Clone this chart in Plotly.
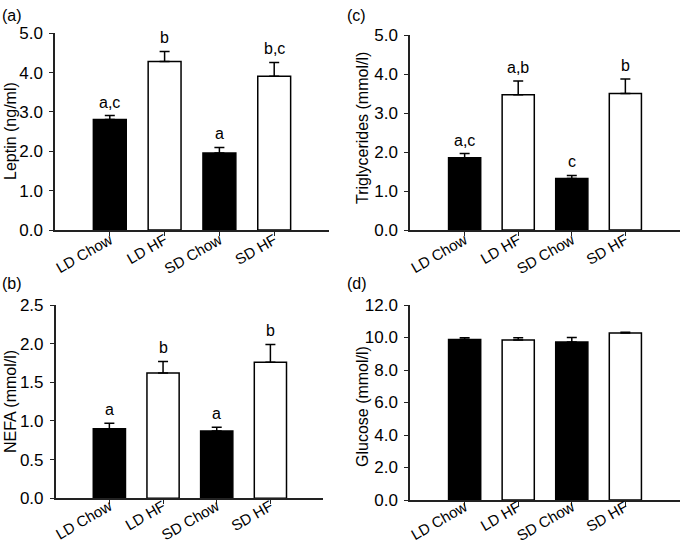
import plotly.graph_objects as go

W, H = 680, 545
categories = ["LD Chow", "LD HF", "SD Chow", "SD HF"]
bar_colors = ["black", "white", "black", "white"]

leptin = [2.81, 4.28, 1.96, 3.91]
leptin_err = [0.10, 0.26, 0.14, 0.35]
leptin_sig = ["a,c", "b", "a", "b,c"]

nefa = [0.90, 1.62, 0.87, 1.76]
nefa_err = [0.07, 0.15, 0.05, 0.23]
nefa_sig = ["a", "b", "a", "b"]

trig = [1.85, 3.47, 1.32, 3.50]
trig_err = [0.11, 0.35, 0.08, 0.37]
trig_sig = ["a,c", "a,b", "c", "b"]

glucose = [9.88, 9.85, 9.72, 10.27]
glucose_err = [0.10, 0.14, 0.28, 0.06]

panels = [
    dict(v=leptin, e=leptin_err, s=leptin_sig, yr=[0, 5], dt=1.0, title="Leptin (ng/ml)",
         xp=(55, 329), yp=(33.3, 230), xr=[-1.0, 4.0], lab="(a)", labpos=(0, 15), tpos=(10, 131), so=-10),
    dict(v=trig, e=trig_err, s=trig_sig, yr=[0, 5], dt=1.0, title="Triglycerides (mmol/l)",
         xp=(410, 680), yp=(35, 230), xr=[-1.02, 4.02], lab="(c)", labpos=(345, 15), tpos=(362, 128), so=-10),
    dict(v=nefa, e=nefa_err, s=nefa_sig, yr=[0, 2.5], dt=0.5, title="NEFA (mmol/l)",
         xp=(55.7, 323), yp=(305, 498.3), xr=[-1.0, 3.98], lab="(b)", labpos=(0, 283), tpos=(10, 402), so=-12),
    dict(v=glucose, e=glucose_err, s=None, yr=[0, 12], dt=2.0, title="Glucose (mmol/l)",
         xp=(410, 680), yp=(305, 500), xr=[-1.02, 4.02], lab="(d)", labpos=(345, 283), tpos=(362, 407), so=-13),
]

FONT = "Liberation Sans, Arial, sans-serif"
AXC = "#222222"

fig = go.Figure()
annotations = []
layout = {}
for i, p in enumerate(panels, start=1):
    xs = "x" if i == 1 else f"x{i}"
    ys = "y" if i == 1 else f"y{i}"
    fig.add_trace(go.Bar(
        x=categories, y=p["v"], xaxis=xs, yaxis=ys, width=0.6,
        marker=dict(color=bar_colors, line=dict(color="black", width=1.5)),
        error_y=dict(type="data", symmetric=False, array=p["e"], arrayminus=[0] * 4,
                     color="black", thickness=1.5, width=5),
        showlegend=False,
    ))
    xname = "xaxis" if i == 1 else f"xaxis{i}"
    yname = "yaxis" if i == 1 else f"yaxis{i}"
    layout[xname] = dict(
        domain=[p["xp"][0] / W, p["xp"][1] / W], anchor=ys, range=p["xr"],
        type="category", showline=True, linecolor=AXC, linewidth=1.5,
        ticks="outside", ticklen=4, tickwidth=1.2, tickcolor=AXC,
        tickangle=-30, tickfont=dict(family=FONT, size=15, color="black"),
        ticklabelstandoff=p["so"], automargin=False,
        showgrid=False, zeroline=False, fixedrange=True,
    )
    layout[yname] = dict(
        domain=[1 - p["yp"][1] / H, 1 - p["yp"][0] / H], anchor=xs, range=p["yr"],
        dtick=p["dt"], tick0=0, tickformat=".1f", showline=True, linecolor=AXC, linewidth=1.5,
        ticks="outside", ticklen=4, tickwidth=1.2, tickcolor=AXC,
        tickfont=dict(family=FONT, size=17, color="black"), ticklabelstandoff=3,
        automargin=False, showgrid=False, zeroline=False, fixedrange=True,
    )
    if p["s"]:
        for c, v, e, s in zip(categories, p["v"], p["e"], p["s"]):
            annotations.append(dict(
                x=c, y=v + e, xref=xs, yref=ys, text=s, showarrow=False,
                yanchor="bottom", yshift=3, font=dict(family=FONT, size=16, color="black"),
            ))
    annotations.append(dict(
        x=p["labpos"][0] / W, y=1 - p["labpos"][1] / H, xref="paper", yref="paper",
        text=p["lab"], showarrow=False, xanchor="left", yanchor="middle",
        font=dict(family=FONT, size=16, color="black"),
    ))
    annotations.append(dict(
        x=p["tpos"][0] / W, y=1 - p["tpos"][1] / H, xref="paper", yref="paper",
        text=p["title"], showarrow=False, textangle=-90, xanchor="center", yanchor="middle",
        font=dict(family=FONT, size=16, color="black"),
    ))

fig.update_layout(
    width=W, height=H, margin=dict(l=0, r=0, t=0, b=0, pad=0, autoexpand=False),
    paper_bgcolor="white", plot_bgcolor="white",
    font=dict(family=FONT, color="black"),
    annotations=annotations, bargap=0.4, **layout,
)
fig.write_html("out.html", config={"displayModeBar": False},
               post_script="document.body.style.margin='0';")
